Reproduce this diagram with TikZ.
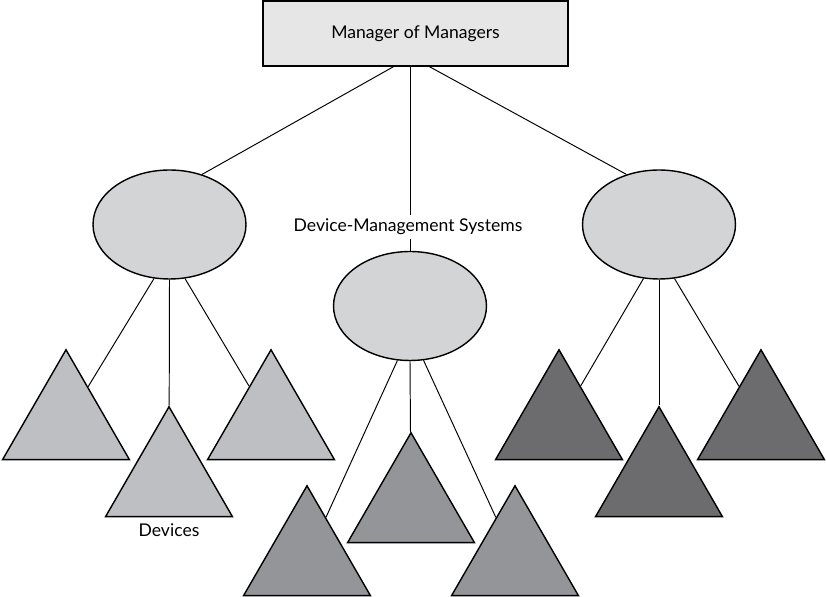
\documentclass[tikz,border=0pt]{standalone}
\usepackage{fontspec}
\setmainfont{Lato}
\usetikzlibrary{calc, shapes.geometric}

\definecolor{boxgray}{HTML}{E6E6E6}
\definecolor{ellgray}{HTML}{D3D4D6}
\definecolor{devlight}{HTML}{BEBFC3}
\definecolor{devmid}{HTML}{949598}
\definecolor{devdark}{HTML}{6C6C6E}

\begin{document}
\begin{tikzpicture}[x=0.02cm, y=-0.02cm, line width=0.55pt,
  sys/.style={draw, ellipse, fill=ellgray, line width=0.8pt,
    minimum width=3.06cm, minimum height=2.18cm, inner sep=0pt},
  dev/.style={draw, regular polygon, regular polygon sides=3,
    minimum size=2.93cm, inner sep=0pt, line width=0.8pt},
  lbl/.style={font=\fontsize{10}{12}\selectfont}]
  \useasboundingbox (0,0) rectangle (826,597);

  % top manager
  \node[draw, fill=boxgray, line width=0.8pt, minimum width=6.1cm,
    minimum height=1.3cm, lbl] (M) at (415.5,33.5) {Manager of Managers};

  % device-management systems
  \node[sys] (S1) at (169.5,224.5) {};
  \node[sys] (S2) at (410,306) {};
  \node[sys] (S3) at (659,224.5) {};

  % devices
  \node[dev, fill=devlight] (A1) at (66,423)  {};
  \node[dev, fill=devlight] (A2) at (169,480) {};
  \node[dev, fill=devlight] (A3) at (271,423) {};
  \node[dev, fill=devmid]   (B1) at (307,559) {};
  \node[dev, fill=devmid]   (B2) at (411,506) {};
  \node[dev, fill=devmid]   (B3) at (515,559) {};
  \node[dev, fill=devdark]  (C1) at (559,423) {};
  \node[dev, fill=devdark]  (C2) at (659,480) {};
  \node[dev, fill=devdark]  (C3) at (761,423) {};

  % manager -> systems
  \draw ($(M.south)+(-22,0)$) -- (S1.57);
  \draw (S2.north |- M.south) -- (S2.north);
  \draw ($(M.south)+(14,0)$) -- (S3.123);

  % systems -> devices
  \draw (S1.254) -- (A1);
  \draw (S1.south) -- (A2);
  \draw (S1.286) -- (A3);
  \draw (S2.257) -- (B1);
  \draw (S2.south) -- (B2);
  \draw (S2.284) -- (B3);
  \draw (S3.254) -- (C1);
  \draw (S3.south) -- (C2);
  \draw (S3.286) -- (C3);

  \node[lbl, fill=white, inner sep=2pt] (tS) at (408,227) {Device-Management Systems};
  \node[lbl] (tD) at (169,530) {Devices};
\end{tikzpicture}
\end{document}
